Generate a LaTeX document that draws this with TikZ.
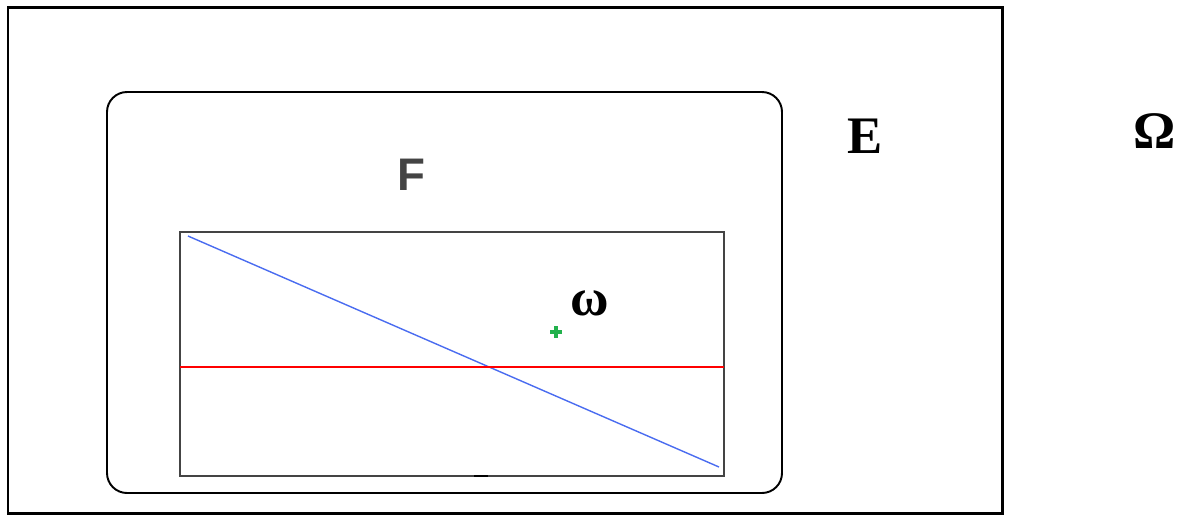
\documentclass[tikz,border=0pt]{standalone}
\usepackage{fontspec}
\setmainfont{Liberation Serif}
\newfontfamily\labsans{Liberation Sans}
\usetikzlibrary{positioning}

\definecolor{frameGray}{HTML}{444444}
\definecolor{lineBlue}{HTML}{4A6CF0}
\definecolor{ptGreen}{HTML}{22B14C}

\tikzset{
  setlabel/.style={inner sep=0pt, font=\fontsize{30}{30}\selectfont\bfseries},
}

\begin{document}
\begin{tikzpicture}[x=0.02cm,y=-0.02cm]
  % --- canvas size (pixels) ---
  \useasboundingbox (0,0) rectangle (1180,515);

  % --- outer set E ---
  \draw[line width=1.7pt] (8,7) rectangle (1002,513);

  % --- rounded set F ---
  \draw[line width=1.1pt, rounded corners=0.4cm] (107,92) rectangle (782,493);

  % --- inner window ---
  \draw[frameGray, line width=1.2pt] (180,232) rectangle (724,476);
  \draw[line width=1.2pt] (474,476) -- (488,476);

  % --- blue and red lines ---
  \draw[lineBlue, line width=0.8pt] (188,236) -- (719,467);
  \draw[red, line width=0.7pt] (180,367) -- (724,367);

  % --- point omega ---
  \coordinate (pt) at (556,332);
  \draw[ptGreen, line width=2.8pt] ([xshift=-6*0.02cm]pt) -- ([xshift=6*0.02cm]pt);
  \draw[ptGreen, line width=2.8pt] ([yshift=-6*0.02cm]pt) -- ([yshift=6*0.02cm]pt);

  % --- labels ---
  \node[setlabel, font=\fontsize{26}{26}\selectfont\labsans\bfseries, text=frameGray] (labF) at (411,175) {F};
  \node[setlabel] (labE) at (865,136) {E};
  \node[setlabel] (labOmega) at (1155,131) {Ω};
  \node[setlabel] (labomega) at (590,303) {ω};
\end{tikzpicture}
\end{document}
